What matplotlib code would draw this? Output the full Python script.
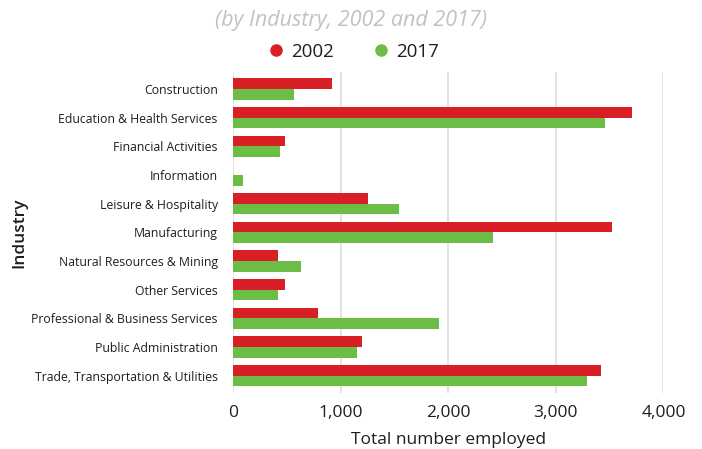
import numpy as np
import matplotlib
matplotlib.use("Agg")
import matplotlib.pyplot as plt
from matplotlib.lines import Line2D

industries = ["Construction", "Education & Health Services", "Financial Activities",
              "Information", "Leisure & Hospitality", "Manufacturing",
              "Natural Resources & Mining", "Other Services",
              "Professional & Business Services", "Public Administration",
              "Trade, Transportation & Utilities"]
emp_2002 = [916, 3707, 479, 0, 1251, 3521, 414, 479, 786, 1195, 3419]
emp_2017 = [563, 3456, 433, 88, 1540, 2414, 628, 414, 1912, 1149, 3288]
xticks = [0, 1000, 2000, 3000, 4000]

red = "#d91f26"
green = "#6cbd45"
dark = "#1e1e1e"

plt.rcParams['font.family'] = ['Open Sans', 'DejaVu Sans']

fig = plt.figure(figsize=(7.02, 4.49), dpi=100)
ax = fig.add_axes([0.332, 0.125, 0.613, 0.715])

y = np.arange(len(industries))
h = 0.37
ax.barh(y - h / 2, emp_2002, height=h, color=red, zorder=3)
ax.barh(y + h / 2, emp_2017, height=h, color=green, zorder=3)

ax.set_ylim(len(industries) - 0.4, -0.6)
ax.set_xlim(0, 4000)
ax.set_yticks(y)
ax.set_yticklabels(industries, fontsize=8.8, color=dark)
ax.set_xticks(xticks)
ax.set_xticklabels([f"{v:,}" for v in xticks], fontsize=12.5, color=dark)
ax.tick_params(axis='both', length=0)
ax.tick_params(axis='y', pad=11)
ax.tick_params(axis='x', pad=9)
for s in ax.spines.values():
    s.set_visible(False)
ax.grid(axis='x', color="#e2e2e2", linewidth=1.5, zorder=0)
ax.set_axisbelow(True)

ax.set_xlabel("Total number employed", fontsize=12.5, color=dark, labelpad=8,
              fontweight='medium')
ax.set_ylabel("Industry", fontsize=12.5, color=dark, labelpad=3, fontweight='semibold')

fig.text(0.5, 0.955, "(by Industry, 2002 and 2017)", ha='center', va='center',
         fontsize=15.5, style='italic', fontweight='medium', color="#c2c2c6")

handles = [Line2D([], [], marker='o', linestyle='none', color=red, markersize=8),
           Line2D([], [], marker='o', linestyle='none', color=green, markersize=8)]
leg = fig.legend(handles, ["2002", "2017"], loc='center', bbox_to_anchor=(0.5, 0.885),
                 ncol=2, frameon=False, fontsize=13.5, handletextpad=0.1,
                 columnspacing=1.8, handlelength=1.4)
for t in leg.get_texts():
    t.set_color(dark)
    t.set_fontweight('medium')

fig.savefig("out.png", dpi=100)
